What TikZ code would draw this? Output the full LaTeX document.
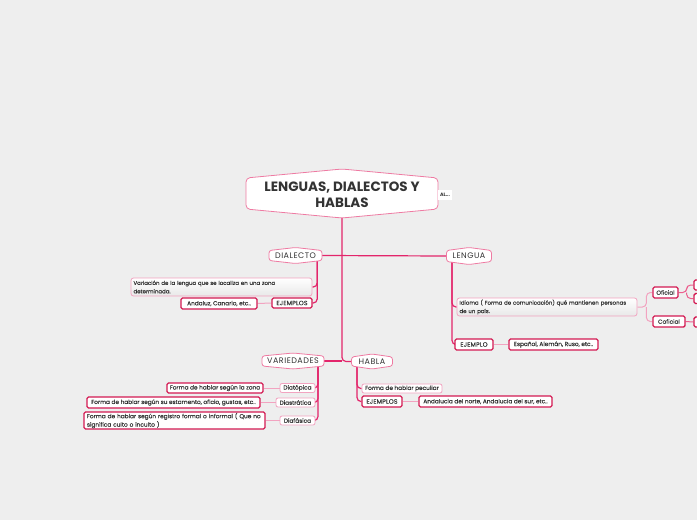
\documentclass[tikz,border=0pt]{standalone}
\usepackage{fontspec}
\setmainfont{Poppins}
\newfontfamily\smallf{Poppins}[FakeBold=0.25]
\newfontfamily\capsf{Poppins}[LetterSpace=6]
\newfontfamily\ejf{Poppins}[LetterSpace=3,FakeBold=0.3]
\usetikzlibrary{backgrounds}
\pgfdeclarelayer{bglayer}
\pgfsetlayers{bglayer,background,main}

\definecolor{trunk}{HTML}{E3256B}
\definecolor{thick}{HTML}{D31A52}
\definecolor{light}{HTML}{F2A3C0}
\definecolor{midpink}{HTML}{EC5F8E}
\definecolor{hexb}{HTML}{EE7AA2}
\definecolor{bgc}{HTML}{EEEEEE}
\definecolor{txt}{HTML}{333333}

\tikzset{
 box/.style={rectangle, inner sep=0pt, align=center, font=\smallf\fontsize{5.8}{8.4}\selectfont, text=txt, fill=white},
 thickbox/.style={box, draw=thick, line width=1.4pt, rounded corners=1.5pt},
 ejbox/.style={thickbox, font=\ejf\fontsize{6.2}{7}\selectfont},
 lightbox/.style={box, draw=light, line width=0.8pt, rounded corners=2pt},
 shadebox/.style={box, draw=light, line width=0.8pt, rounded corners=2.5pt, top color=white, bottom color=black!9,
   align=left, inner xsep=2.5pt, font=\smallf\fontsize{5.45}{8.4}\selectfont},
 hexlabel/.style={rectangle, inner sep=0pt, font=\capsf\fontsize{8}{9}\selectfont, text=txt},
 hexline/.style={draw=hexb, line width=0.8pt, fill=white, rounded corners=2.5pt},
 trunkline/.style={draw=trunk, line width=1.2pt, rounded corners=4pt},
 linkline/.style={draw=light, line width=1pt},
 lightline/.style={draw=light, line width=1pt, rounded corners=4pt},
 midline/.style={draw=midpink, line width=1pt, rounded corners=4pt},
}

% name, cx, cy, w, h, d, text
\newcommand\hexnode[7]{%
 \path[hexline] ({#2-#4/2},{#3-#5/2+#6}) -- (#2,{#3-#5/2}) -- ({#2+#4/2},{#3-#5/2+#6})
   -- ({#2+#4/2},{#3+#5/2-#6}) -- (#2,{#3+#5/2}) -- ({#2-#4/2},{#3+#5/2-#6}) -- cycle;
 \node[hexlabel, minimum width=#4, minimum height=#5] (#1) at (#2,#3) {#7};}

\begin{document}
\begin{tikzpicture}[x=1pt,y=-1pt]
\useasboundingbox (0,0) rectangle (697,520);
\begin{pgfonlayer}{bglayer}
 \fill[bgc] (0,0) rectangle (697,520);
\end{pgfonlayer}

% main title
\path[hexline, rounded corners=4pt] (246,178) -- (342,169) -- (438,178) -- (438,209) -- (342,218) -- (246,209) -- cycle;
\node[rectangle, inner sep=0pt, minimum width=192, minimum height=49, align=center,
      font=\bfseries\fontsize{13.5}{16}\selectfont, text=txt] (main) at (342,195) {LENGUAS, DIALECTOS Y\\HABLAS};
\node[rectangle, fill=white, inner sep=0pt, minimum width=14, minimum height=10,
      font=\bfseries\fontsize{4.8}{5}\selectfont, text=txt] (al) at (445,195) {AL...};

% section nodes
\hexnode{dialecto}{295.5}{255.5}{53}{16}{3}{DIALECTO}
\hexnode{lengua}{469}{256}{45}{17}{3}{LENGUA}
\hexnode{variedades}{293}{361}{62}{16}{3}{VARIEDADES}
\hexnode{habla}{372}{361.5}{41}{15}{3}{HABLA}

% DIALECTO children
\node[shadebox, text width=176, minimum height=18] (variacion) at (221.5,287)
  {Variación de la lengua que se localiza en una zona\\determinada.};
\node[ejbox, minimum width=40, minimum height=10] (ejd) at (292,303) {EJEMPLOS};
\node[thickbox, minimum width=76, minimum height=11] (andaluz) at (219,303.5) {Andaluz, Canario, etc..};

% LENGUA children
\node[shadebox, text width=175, minimum height=18] (idioma) at (547,307)
  {Idioma ( Forma de comunicación) qué mantienen personas\\de un país.};
\node[ejbox, minimum width=38, minimum height=11] (ejl) at (474,344.5) {EJEMPLO};
\node[thickbox, minimum width=89, minimum height=11] (espanol) at (553.5,344.5) {Español, Alemán, Ruso, etc..};
\node[thickbox, minimum width=25, minimum height=11] (oficial) at (665.5,292.5) {Oficial};
\node[thickbox, minimum width=32, minimum height=11] (coficial) at (669,321.5) {Coficial};
\begin{scope}
 \clip (0,0) rectangle (697,520);
 \node[thickbox, minimum width=40, minimum height=10] (of1) at (714,285) {};
 \node[thickbox, minimum width=40, minimum height=10] (of2) at (714,298.5) {};
 \node[thickbox, minimum width=40, minimum height=10] (cof1) at (714,322) {};
\end{scope}

% VARIEDADES children
\node[lightbox, minimum width=35, minimum height=9] (diatopica) at (297.5,388) {Diatópica};
\node[thickbox, minimum width=96, minimum height=10] (zona) at (215,388) {Forma de hablar según la zona};
\node[lightbox, minimum width=39, minimum height=9] (diastratica) at (295.5,402.5) {Diastrática};
\node[thickbox, minimum width=173, minimum height=11] (estamento) at (173.5,402.5) {Forma de hablar según su estamento, oficio, gustos, etc..};
\node[lightbox, minimum width=35, minimum height=9] (diafasica) at (297.5,420.5) {Diafásica};
\node[thickbox, align=left, inner xsep=3pt, text width=175, minimum height=17] (registro) at (174.5,420.5)
  {Forma de hablar según registro formal o informal ( Que no\\significa culto o inculto )};

% HABLA children
\node[lightbox, minimum width=80, minimum height=9] (peculiar) at (402,388.5) {Forma de hablar peculiar};
\node[ejbox, minimum width=40, minimum height=11] (ejh) at (382,401.5) {EJEMPLOS};
\node[thickbox, minimum width=133, minimum height=11] (andalucia) at (485.5,401.5) {Andalucia del norte, Andalucia del sur, etc..};

% connectors
\begin{pgfonlayer}{background}
 \draw[trunkline] (main.center) |- (habla.west);
 \draw[trunkline] (dialecto.east) -- (lengua.west);
 \draw[trunkline] (variedades.east) -- (variedades.east -| main.center);

 \coordinate (dv) at ([xshift=-5pt]dialecto.east);
 \draw[trunkline] (dv) |- (variacion.east);
 \draw[trunkline] (dv) |- (ejd.east);
 \draw[linkline] (ejd.west) -- (andaluz.east);

 \coordinate (lv) at ([xshift=-17pt]lengua.center);
 \draw[trunkline] (lv) |- (idioma.west);
 \draw[trunkline] (lv) |- (ejl.west);
 \draw[linkline] (ejl.east) -- (espanol.west);
 \coordinate (iv) at ([xshift=9pt]idioma.east);
 \draw[lightline] (idioma.east) -- (iv) |- (oficial.west);
 \draw[lightline] (iv) |- (coficial.west);
 \coordinate (ov) at ([xshift=8pt]oficial.east);
 \draw[midline] (oficial.east) -- (ov) |- (of1.west);
 \draw[midline] (ov) |- (of2.west);
 \draw[midline] (coficial.east) -- (cof1.west);

 \coordinate (vv) at ([xshift=25pt]variedades.center);
 \draw[trunkline] (vv) |- (diatopica.east);
 \draw[trunkline] (vv) |- (diastratica.east);
 \draw[trunkline] (vv) |- (diafasica.east);
 \draw[linkline] (zona.east) -- (diatopica.west);
 \draw[linkline] (estamento.east) -- (diastratica.west);
 \draw[linkline] (registro.east) -- (diafasica.west);

 \coordinate (hv) at ([xshift=-15pt]habla.center);
 \draw[trunkline] (hv) |- (peculiar.west);
 \draw[trunkline] (hv) |- (ejh.west);
 \draw[linkline] (ejh.east) -- (andalucia.west);
\end{pgfonlayer}
\end{tikzpicture}
\end{document}
